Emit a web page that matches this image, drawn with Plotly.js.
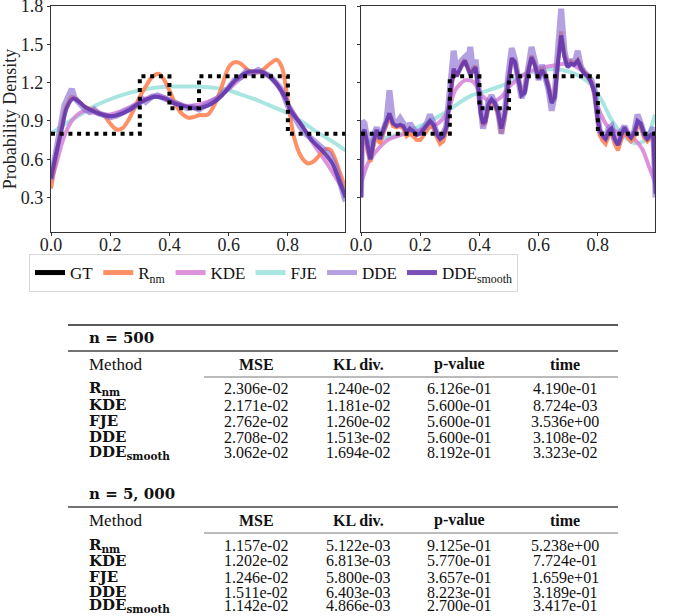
<!DOCTYPE html>
<html><head><meta charset="utf-8">
<script src="https://cdn.plot.ly/plotly-3.0.1.min.js"></script>
<style>html,body{margin:0;padding:0;background:#fff}#chart{width:685px;height:616px}</style>
</head><body><div id="chart"></div>
<script>
// ---------- data: ground truth ----------
const gtX = [0, 0.3, 0.3, 0.4, 0.4, 0.5, 0.5, 0.8, 0.8, 1.0];
const gtY = [0.8, 0.8, 1.25, 1.25, 1.0, 1.0, 1.25, 1.25, 0.8, 0.8];

// ---------- n = 500 (left panel) ----------
const fjeLX = [0,0.05,0.1,0.15,0.2,0.25,0.3,0.35,0.4,0.45,0.5,0.55,0.6,0.65,0.7,0.75,0.8,0.85,0.9,0.95,1.0];
const fjeLY = [0.80,0.88,0.95,1.02,1.07,1.11,1.14,1.16,1.17,1.17,1.17,1.16,1.14,1.10,1.06,1.01,0.96,0.89,0.81,0.74,0.66];
const rnmLX = [0,0.015,0.03,0.05,0.07,0.09,0.115,0.15,0.18,0.2,0.22,0.24,0.26,0.28,0.30,0.32,0.34,0.363,0.38,0.40,0.425,0.445,0.463,0.48,0.5,0.53,0.555,0.577,0.6,0.62,0.64,0.665,0.69,0.71,0.735,0.762,0.78,0.80,0.82,0.845,0.868,0.89,0.91,0.928,0.945,0.96,0.975,0.995];
const rnmLY = [0.37,0.58,0.80,1.00,1.09,1.06,1.01,0.98,0.94,0.88,0.835,0.84,0.90,0.99,1.09,1.17,1.24,1.27,1.23,1.14,1.01,0.95,0.925,0.93,0.945,0.95,1.04,1.17,1.32,1.36,1.35,1.30,1.28,1.29,1.34,1.38,1.32,1.06,0.78,0.62,0.567,0.59,0.64,0.68,0.67,0.60,0.50,0.37];
const kdeLX = [0,0.02,0.036,0.05,0.07,0.09,0.115,0.15,0.2,0.26,0.318,0.363,0.41,0.456,0.51,0.554,0.6,0.655,0.712,0.757,0.8,0.847,0.892,0.937,0.982,0.995];
const kdeLY = [0.42,0.58,0.72,0.81,0.90,0.95,0.98,0.96,0.95,1.00,1.075,1.10,1.06,1.02,1.036,1.075,1.15,1.257,1.28,1.205,1.036,0.866,0.70,0.55,0.38,0.33];
const ddeLX = [0,0.015,0.03,0.045,0.06,0.07,0.08,0.09,0.1,0.115,0.13,0.145,0.16,0.18,0.2,0.22,0.24,0.26,0.28,0.3,0.31,0.32,0.34,0.36,0.38,0.4,0.42,0.44,0.46,0.48,0.5,0.52,0.54,0.56,0.58,0.6,0.62,0.64,0.66,0.68,0.7,0.72,0.74,0.76,0.78,0.8,0.82,0.84,0.86,0.88,0.9,0.92,0.94,0.96,0.98,0.995];
const ddeLY = [0.44,0.63,0.85,1.02,1.10,1.15,1.08,1.05,1.02,0.99,0.97,0.99,0.96,0.95,0.93,0.94,0.96,0.98,1.01,1.04,1.07,1.05,1.09,1.10,1.08,1.06,1.03,1.02,1.00,1.01,0.99,1.02,1.04,1.07,1.12,1.16,1.22,1.24,1.29,1.27,1.30,1.27,1.25,1.20,1.14,1.02,0.93,0.86,0.80,0.76,0.71,0.67,0.64,0.55,0.40,0.27];
const ddsLX = [0,0.015,0.036,0.053,0.075,0.095,0.115,0.149,0.18,0.205,0.23,0.26,0.285,0.306,0.33,0.351,0.385,0.419,0.463,0.486,0.53,0.577,0.622,0.667,0.712,0.757,0.79,0.81,0.847,0.88,0.915,0.95,0.982,0.995];
const ddsLY = [0.45,0.62,0.83,1.00,1.075,1.05,1.01,0.97,0.945,0.936,0.95,0.98,1.02,1.05,1.075,1.09,1.075,1.036,1.01,1.00,1.02,1.10,1.218,1.284,1.284,1.205,1.09,0.98,0.866,0.75,0.67,0.567,0.38,0.30];

// ---------- n = 5,000 (right panel) ----------
const fjeRX = [0,0.05,0.09,0.15,0.205,0.25,0.294,0.33,0.374,0.43,0.498,0.543,0.6,0.678,0.734,0.779,0.813,0.847,0.88,0.905,0.926,0.96,0.993];
const fjeRY = [0.72,0.75,0.77,0.81,0.866,0.92,0.98,1.04,1.10,1.14,1.197,1.257,1.296,1.30,1.257,1.18,1.06,0.905,0.80,0.75,0.725,0.75,0.95];
const kdeRX = [0,0.023,0.045,0.09,0.149,0.205,0.26,0.294,0.318,0.351,0.38,0.408,0.44,0.475,0.5,0.51,0.554,0.6,0.655,0.70,0.745,0.779,0.80,0.835,0.88,0.926,0.95,0.97,0.993];
const kdeRY = [0.41,0.566,0.645,0.75,0.80,0.83,0.88,0.98,1.14,1.218,1.205,1.10,1.05,1.09,1.166,1.19,1.27,1.31,1.336,1.35,1.296,1.19,1.01,0.853,0.80,0.75,0.68,0.56,0.42];
const gridR = [0.0,0.004,0.012,0.022,0.032,0.042,0.053,0.064,0.075,0.086,0.096,0.108,0.12,0.132,0.143,0.154,0.165,0.176,0.188,0.2,0.21,0.222,0.233,0.245,0.256,0.267,0.278,0.288,0.296,0.305,0.313,0.323,0.332,0.342,0.351,0.36,0.369,0.378,0.387,0.396,0.404,0.412,0.42,0.43,0.441,0.452,0.463,0.474,0.486,0.497,0.509,0.52,0.531,0.542,0.553,0.564,0.576,0.588,0.6,0.611,0.622,0.633,0.644,0.654,0.665,0.676,0.687,0.698,0.709,0.72,0.732,0.743,0.755,0.767,0.778,0.789,0.798,0.806,0.815,0.826,0.836,0.846,0.857,0.868,0.879,0.89,0.901,0.912,0.923,0.934,0.945,0.956,0.967,0.978,0.987,0.995];
const rnmRY = [0.35,0.78,0.80,0.66,0.58,0.70,0.79,0.72,0.80,0.86,0.93,0.86,0.85,0.86,0.84,0.78,0.80,0.78,0.75,0.75,0.78,0.82,0.87,0.84,0.77,0.72,0.74,0.82,0.98,1.17,1.29,1.25,1.30,1.35,1.38,1.33,1.28,1.31,1.33,1.18,0.98,0.87,0.88,1.00,1.05,1.02,0.95,0.80,0.92,1.18,1.38,1.37,1.24,1.12,1.15,1.30,1.41,1.35,1.25,1.32,1.27,1.19,1.07,1.10,1.37,1.60,1.43,1.35,1.37,1.35,1.38,1.33,1.28,1.26,1.20,1.10,0.90,0.79,0.75,0.72,0.78,0.80,0.72,0.67,0.75,0.82,0.77,0.74,0.77,0.86,0.85,0.77,0.74,0.77,0.79,0.40];
const ddeRY = [0.30,0.90,0.88,0.72,0.60,0.78,0.85,0.76,0.85,0.90,1.14,0.90,0.88,0.92,0.88,0.82,0.88,0.84,0.80,0.82,0.84,0.88,0.95,0.88,0.80,0.77,0.80,0.86,1.05,1.30,1.45,1.28,1.35,1.38,1.40,1.33,1.48,1.30,1.38,1.18,0.95,0.84,0.92,1.05,1.10,1.04,0.98,0.80,0.98,1.25,1.47,1.38,1.22,1.08,1.14,1.32,1.48,1.36,1.22,1.34,1.26,1.15,0.98,1.10,1.45,1.78,1.45,1.33,1.38,1.34,1.45,1.32,1.28,1.25,1.22,1.14,0.95,0.82,0.80,0.76,0.84,0.86,0.76,0.72,0.82,0.86,0.80,0.78,0.82,0.95,0.88,0.80,0.76,0.80,0.85,0.30];
const ddsRY = [0.30,0.80,0.83,0.70,0.60,0.74,0.83,0.76,0.83,0.88,0.96,0.88,0.86,0.87,0.86,0.81,0.84,0.82,0.79,0.80,0.83,0.86,0.90,0.87,0.80,0.76,0.78,0.85,1.01,1.20,1.31,1.25,1.30,1.34,1.37,1.31,1.26,1.29,1.32,1.16,0.96,0.88,0.90,1.03,1.07,1.04,0.97,0.84,0.96,1.20,1.39,1.36,1.22,1.10,1.12,1.28,1.40,1.33,1.23,1.30,1.25,1.16,1.04,1.08,1.35,1.57,1.40,1.32,1.35,1.34,1.37,1.31,1.27,1.25,1.20,1.12,0.94,0.83,0.79,0.76,0.82,0.84,0.76,0.71,0.79,0.85,0.80,0.77,0.81,0.90,0.88,0.80,0.76,0.79,0.80,0.33];

// ---------- tables ----------
const methods = ['R<sub>nm</sub>', 'KDE', 'FJE', 'DDE', 'DDE<sub>smooth</sub>'];
const columns = ['MSE', 'KL div.', 'p-value', 'time'];
const mse500  = [2.306e-2, 2.171e-2, 2.762e-2, 2.708e-2, 3.062e-2];
const kl500   = [1.240e-2, 1.181e-2, 1.260e-2, 1.513e-2, 1.694e-2];
const p500    = [6.126e-1, 5.600e-1, 5.600e-1, 5.600e-1, 8.192e-1];
const time500 = [4.190e-1, 8.724e-3, 3.536e0, 3.108e-2, 3.323e-2];
const mse5000  = [1.157e-2, 1.202e-2, 1.246e-2, 1.511e-2, 1.142e-2];
const kl5000   = [5.122e-3, 6.813e-3, 5.800e-3, 6.403e-3, 4.866e-3];
const p5000    = [9.125e-1, 5.770e-1, 3.657e-1, 8.223e-1, 2.700e-1];
const time5000 = [5.238e0, 7.724e-1, 1.659e1, 3.189e-1, 3.417e-1];
const legendNames = ['GT', 'R<sub>nm</sub>', 'KDE', 'FJE', 'DDE', 'DDE<sub>smooth</sub>'];

// ---------- styling / layout ----------
const L = 51, R = 655, T = 6, B = 232;
const X = px => (px - L) / (R - L);
const Y = py => (B - py) / (B - T);
const C = {
  gt: '#000000',
  rnm: 'rgba(255,127,80,0.88)',
  kde: 'rgba(214,128,214,0.85)',
  fje: 'rgba(100,210,200,0.55)',
  dde: 'rgba(140,110,210,0.65)',
  dds: 'rgba(95,50,170,0.85)'
};
const serif = 'Liberation Serif';
const cm = 'DejaVu Serif';

function ln(x, y, color, width, xa, ya, shape, dash) {
  return {x: x, y: y, type: 'scatter', mode: 'lines', xaxis: xa, yaxis: ya, showlegend: false,
          hoverinfo: 'skip', line: {color: color, width: width, shape: shape || 'spline', smoothing: 0.8, dash: dash || 'solid'}};
}
const data = [];
[['x','y', fjeLX, fjeLY, kdeLX, kdeLY, rnmLX, rnmLY, ddeLX, ddeLY, ddsLX, ddsLY],
 ['x2','y2', fjeRX, fjeRY, kdeRX, kdeRY, gridR, rnmRY, gridR, ddeRY, gridR, ddsRY]].forEach(p => {
  const [xa, ya, fx, fy, kx, ky, rx, ry, dx, dy, sx, sy] = p;
  data.push(ln(fx, fy, C.fje, 4, xa, ya));
  data.push(ln(kx, ky, C.kde, 4, xa, ya));
  data.push(ln(rx, ry, C.rnm, 4, xa, ya, xa === 'x' ? 'spline' : 'linear'));
  data.push(ln(dx, dy, C.dde, 6, xa, ya, 'linear'));
  data.push(ln(sx, sy, C.dds, 4, xa, ya, xa === 'x' ? 'spline' : 'linear'));
  data.push(ln(gtX, gtY, C.gt, 4, xa, ya, 'linear', '4px,4.7px'));
});
// legend entries
const legColors = [C.gt, C.rnm, C.kde, C.fje, C.dde, C.dds];
legendNames.forEach((n, i) => {
  data.push({x: [null], y: [null], type: 'scatter', mode: 'lines', name: n, showlegend: true,
             line: {color: legColors[i], width: 5}, xaxis: 'x', yaxis: 'y', hoverinfo: 'skip'});
});

const fmt = v => v.toExponential(3).replace(/e([+-])(\d)$/, 'e$10$2');

const ann = [];
const shapes = [];
function rule(py, x0, x1, w, c) {
  shapes.push({type: 'line', xref: 'paper', yref: 'paper', x0: X(x0), x1: X(x1), y0: Y(py), y1: Y(py),
               line: {color: c, width: w}});
}
function txt(t, px, py, anchor, font) {
  ann.push({text: t, xref: 'paper', yref: 'paper', x: X(px), y: Y(py), xanchor: anchor, yanchor: 'middle',
            showarrow: false, font: font, borderpad: 0});
}
const colX = [256, 358, 459, 565];
const valFont = {family: serif, size: 16, color: '#111'};
const hdrFont = {family: serif, size: 16, color: '#111'};
const lblFont = {family: cm, size: 15, color: '#111'};

function table(title, topY, rows, cols, withTopRule) {
  if (withTopRule) rule(topY - 13, 68, 618, 1.6, '#222');
  txt('<b>' + title + '</b>', 88, topY, 'left', lblFont);
  rule(topY + 13, 68, 618, 1.4, '#444');
  txt('Method', 88, topY + 26, 'left', {family: serif, size: 17, color: '#111'});
  columns.forEach((c, j) => txt('<b>' + c + '</b>', colX[j], topY + 26, 'center', hdrFont));
  rule(topY + 39, 204, 618, 1, '#777');
  methods.forEach((m, i) => {
    const yy = rows[i];
    txt('<b>' + m + '</b>', 88, yy, 'left', lblFont);
    cols.forEach((arr, j) => txt(fmt(arr[i]), colX[j], yy, 'center', valFont));
  });
}
table('n = 500', 338, [389, 405, 421, 437, 452], [mse500, kl500, p500, time500], true);
table('n = 5, 000', 494, [545, 561, 577, 592, 606], [mse5000, kl5000, p5000, time5000], false);

const axFont = {family: serif, size: 18, color: '#222'};
const xbase = {range: [0, 0.993], tickvals: [0, 0.2, 0.4, 0.6, 0.8], tickformat: '.1f', ticks: 'outside', ticklen: 3,
  tickcolor: '#333', showline: true, mirror: true, linecolor: '#333', linewidth: 1.2, showgrid: false, zeroline: false,
  tickfont: axFont, fixedrange: true, ticklabelstandoff: -7, ticklabeloverflow: 'allow'};
const ybase = {range: [0.03, 1.8005], tickvals: [0.3, 0.6, 0.9, 1.2, 1.5, 1.8], tickformat: '.1f', ticks: 'outside', ticklen: 3,
  tickcolor: '#333', showline: true, mirror: true, linecolor: '#333', linewidth: 1.2, showgrid: false, zeroline: false,
  tickfont: axFont, fixedrange: true, ticklabeloverflow: 'allow'};

const layout = {
  width: 685, height: 616,
  margin: {l: L, r: 685 - R, t: T, b: 616 - B, pad: 0},
  paper_bgcolor: '#fff', plot_bgcolor: '#fff',
  showlegend: true,
  xaxis: Object.assign({}, xbase, {domain: [0, X(345)], anchor: 'y'}),
  xaxis2: Object.assign({}, xbase, {domain: [X(361), 1], anchor: 'y2'}),
  yaxis: Object.assign({}, ybase, {anchor: 'x', title: {text: 'Probability Density', font: {family: serif, size: 18, color: '#222'}, standoff: 5}}),
  yaxis2: Object.assign({}, ybase, {anchor: 'x2', showticklabels: false}),
  legend: {orientation: 'h', x: X(29), y: Y(254), xanchor: 'left', yanchor: 'top', bgcolor: '#fff',
           bordercolor: '#d8d8d8', borderwidth: 1, font: {family: serif, size: 17, color: '#111'}, itemwidth: 30},
  annotations: ann,
  shapes: shapes
};
Plotly.newPlot('chart', data, layout, {displayModeBar: false, staticPlot: true});
</script></body></html>
